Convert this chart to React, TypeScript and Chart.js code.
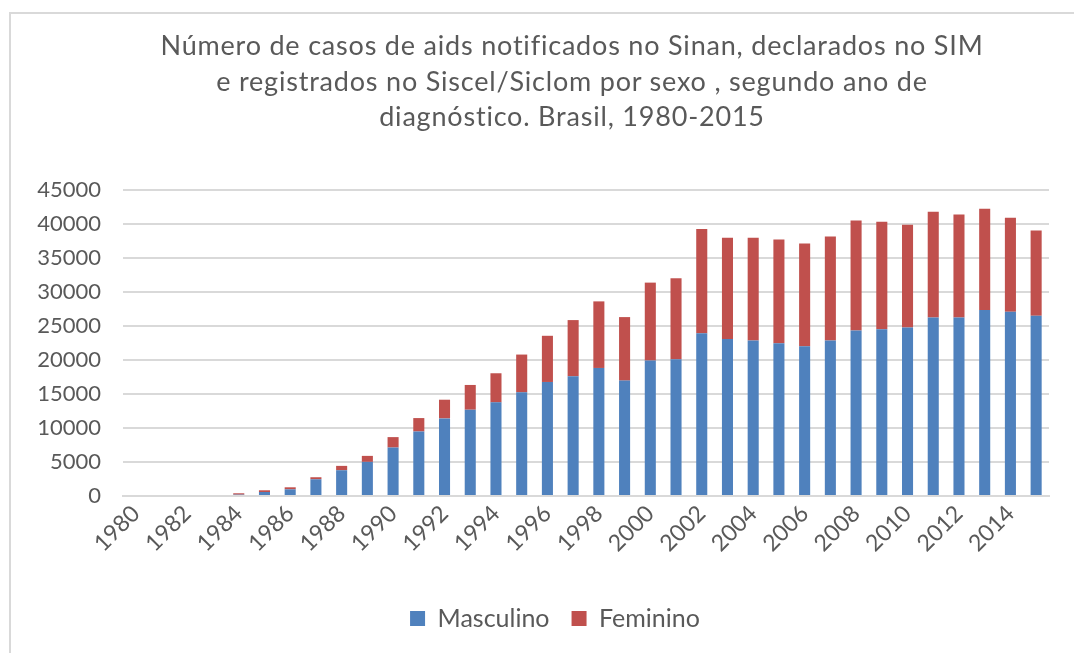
import React, { useEffect, useRef } from "react";
import { Chart, registerables } from "chart.js";

Chart.register(...registerables);

const years = [
  "1980", "1981", "1982", "1983", "1984", "1985", "1986", "1987", "1988", "1989",
  "1990", "1991", "1992", "1993", "1994", "1995", "1996", "1997", "1998", "1999",
  "2000", "2001", "2002", "2003", "2004", "2005", "2006", "2007", "2008", "2009",
  "2010", "2011", "2012", "2013", "2014", "2015",
];

const masculino = [
  0, 0, 0, 0, 200, 590, 980, 2460, 3790, 5020,
  7130, 9490, 11410, 12690, 13770, 15250, 16770, 17610, 18830, 16970,
  19920, 20110, 23950, 23070, 22870, 22480, 22030, 22870, 24340, 24540,
  24790, 26260, 26260, 27340, 27100, 26510,
];

const feminino = [
  0, 0, 0, 0, 200, 250, 300, 300, 640, 880,
  1530, 1970, 2750, 3640, 4280, 5550, 6790, 8260, 9790, 9340,
  11460, 11910, 15300, 14900, 15100, 15240, 15100, 15300, 16190, 15790,
  15100, 15540, 15150, 14900, 13810, 12540,
];

const yTicks = [0, 5000, 10000, 15000, 20000, 25000, 30000, 35000, 40000, 45000];

const titleLines = [
  "Número de casos de aids notificados no Sinan, declarados no SIM",
  "e registrados no Siscel/Siclom por sexo , segundo ano de",
  "diagnóstico. Brasil, 1980-2015",
];

const FONT = "Lato, 'Open Sans', sans-serif";
const TEXT = "#595959";
const GRID = "#d9d9d9";

const framePlugin = {
  id: "frame",
  beforeDraw(chart: any) {
    const ctx = chart.ctx;
    ctx.save();
    ctx.strokeStyle = GRID;
    ctx.lineWidth = 2;
    ctx.beginPath();
    ctx.moveTo(9, 13);
    ctx.lineTo(chart.width, 13);
    ctx.moveTo(10, 13);
    ctx.lineTo(10, chart.height);
    ctx.stroke();
    ctx.restore();
  },
};

const legendShift = {
  id: "legendShift",
  afterUpdate(chart: any) {
    const l = chart.legend;
    if (l) {
      l.left += 15;
      l.right += 15;
      l.adjustHitBoxes();
    }
  },
};

export default function App() {
  const ref = useRef<HTMLCanvasElement | null>(null);

  useEffect(() => {
    if (!ref.current) return;
    const chart = new Chart(ref.current, {
      type: "bar",
      data: {
        labels: years,
        datasets: [
          {
            label: "Masculino",
            data: masculino,
            backgroundColor: "#4F81BD",
            categoryPercentage: 0.43,
            barPercentage: 1,
          },
          {
            label: "Feminino",
            data: feminino,
            backgroundColor: "#C0504D",
            categoryPercentage: 0.43,
            barPercentage: 1,
          },
        ],
      },
      options: {
        animation: false,
        responsive: false,
        maintainAspectRatio: false,
        layout: { padding: { left: 31, right: 25, top: 190, bottom: 12 } },
        plugins: {
          title: { display: false },
          tooltip: { enabled: false },
          legend: {
            display: true,
            position: "bottom",
            labels: {
              color: TEXT,
              font: { family: FONT, size: 25 },
              boxWidth: 15,
              boxHeight: 15,
              padding: 22,
            },
          },
        },
        scales: {
          x: {
            stacked: true,
            grid: { display: false, drawTicks: false },
            border: { display: true, color: GRID, width: 2 },
            afterFit(scale: any) {
              scale.height = 88;
            },
            ticks: {
              color: TEXT,
              font: { family: FONT, size: 23 },
              autoSkip: false,
              maxRotation: 45,
              minRotation: 45,
              padding: 4,
              callback: (_v: any, i: number) => (i % 2 === 0 ? years[i] : ""),
            },
          },
          y: {
            stacked: true,
            min: 0,
            max: 45000,
            grid: { color: GRID, lineWidth: 2, drawTicks: false },
            border: { display: false },
            afterFit(scale: any) {
              scale.width = 92;
            },
            afterBuildTicks(scale: any) {
              scale.ticks = yTicks.map((v) => ({ value: v }));
            },
            ticks: {
              color: TEXT,
              font: { family: FONT, size: 22 },
              padding: 22,
              callback: (v: any) => String(v),
            },
          },
        },
      },
      plugins: [framePlugin, legendShift],
    });
    return () => chart.destroy();
  }, []);

  return (
    <div
      style={{
        position: "absolute",
        left: 0,
        top: 0,
        width: 1074,
        height: 653,
        background: "#fff",
        overflow: "hidden",
      }}
    >
      <canvas
        ref={ref}
        width={1074}
        height={653}
        style={{ position: "absolute", left: 0, top: 0, width: 1074, height: 653 }}
      />
      <div
        style={{
          position: "absolute",
          left: 72,
          top: 27,
          width: 1000,
          textAlign: "center",
          fontFamily: FONT,
          fontSize: 27,
          letterSpacing: "0.8px",
          lineHeight: "35.5px",
          color: TEXT,
        }}
      >
        {titleLines.map((t, i) => (
          <div key={i}>{t}</div>
        ))}
      </div>
    </div>
  );
}
